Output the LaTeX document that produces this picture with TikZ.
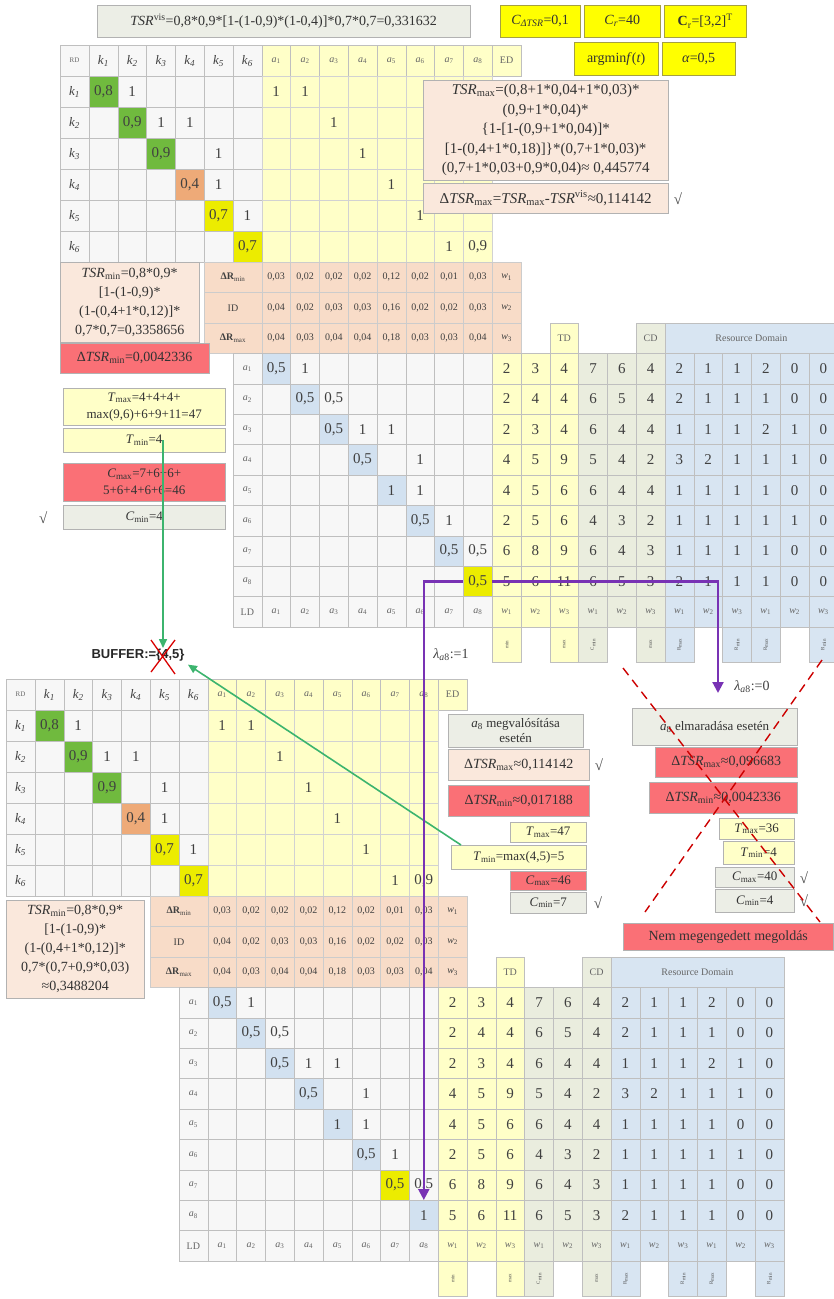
\documentclass[tikz,border=0pt]{standalone}
\usepackage{fontspec}
\setmainfont{Liberation Serif}
\newfontfamily\buffont{Liberation Sans}
\usetikzlibrary{arrows.meta, positioning, calc}

\definecolor{ylt}{RGB}{255,255,200}
\definecolor{glt}{RGB}{234,237,222}
\definecolor{blt}{RGB}{216,229,242}
\definecolor{pch}{RGB}{250,232,220}
\definecolor{pchd}{RGB}{248,220,200}
\definecolor{cred}{RGB}{250,112,118}
\definecolor{cgreen}{RGB}{112,186,62}
\definecolor{corange}{RGB}{238,170,120}
\definecolor{cyel}{RGB}{236,236,0}
\definecolor{bybox}{RGB}{255,255,0}
\definecolor{cblue}{RGB}{210,225,240}
\definecolor{cgrey}{RGB}{236,238,230}
\definecolor{cpurple}{RGB}{120,50,180}
\definecolor{cgarrow}{RGB}{60,180,110}

\newcommand{\fsz}[2]{\fontsize{#1}{#2}\selectfont}
\newcommand{\al}[1]{\textit{a}\textsubscript{#1}}
\newcommand{\wl}[1]{\textit{w}\textsubscript{#1}}
\newcommand{\tsr}{\textit{TSR}}
\newcommand{\colfill}[1]{\ifnum#1<18 \def\cf{ylt}\else\ifnum#1<21 \def\cf{glt}\else\def\cf{blt}\fi\fi}
\def\cw{28.8}
\def\rh{31}
\def\rr{30.4}
\def\ay{308.2}

\tikzset{
  cell/.style={draw=gray!50, fill=gray!6, anchor=north west, minimum width=28.8pt,
    minimum height=31pt, inner sep=0pt, text=black!75, font=\fsz{15}{17}},
  acell/.style={cell, minimum height=30.4pt},
  num/.style={text=black!75, font=\fsz{15}{17}},
  lab/.style={font=\fsz{10}{11}, text=black!60},
  drow/.style={acell, fill=pchd, draw=gray!40, font=\fsz{10}{11}},
  box/.style={draw=gray!60, anchor=north west, inner sep=0pt, align=center,
    text=black!80, font=\fsz{14}{18}},
  ybox/.style={box, fill=bybox, draw=yellow!60!black},
  tick/.style={font=\fsz{15}{17}, text=black!70},
  garrow/.style={draw=cgarrow, line width=1.6pt, -{Triangle[length=9pt,width=8pt]}},
  parrow/.style={draw=cpurple, line width=2.2pt, -{Triangle[length=11pt,width=11pt]}},
  cross/.style={draw=red!80!black, line width=1.4pt, dash pattern=on 9pt off 6pt},
}

% one requirement / activity block
\newcommand{\drawblock}[4]{%
  % header row
  \node[cell,lab,font=\fsz{7}{8}] (#1-rd) at (0,0) {RD};
  \foreach \co in {1,...,6}
    \node[cell,font=\fsz{13}{15}\itshape] (#1-hk\co) at ({\co*\cw},0) {k\textsubscript{\co}};
  \foreach \co in {1,...,8}
    \node[cell,lab,fill=ylt] (#1-ha\co) at ({(\co+6)*\cw},0) {\al{\co}};
  \node[cell,lab,fill=ylt] (#1-ed) at ({15*\cw},0) {ED};
  % k rows
  \foreach \ro in {1,...,6} {
    \node[cell,font=\fsz{13}{15}\itshape] (#1-vk\ro) at (0,{\ro*\rh}) {k\textsubscript{\ro}};
    \foreach \co in {1,...,6}
      \node[cell] (#1-k\ro-\co) at ({\co*\cw},{\ro*\rh}) {};
    \foreach \co in {7,...,14}
      \node[cell,fill=ylt,draw=gray!35] (#1-k\ro-\co) at ({\co*\cw},{\ro*\rh}) {};
  }
  \foreach \ro/\co/\va/\fc in {1/1/{0,8}/cgreen,2/2/{0,9}/cgreen,3/3/{0,9}/cgreen,
      4/4/{0,4}/corange,5/5/{0,7}/cyel,6/6/{0,7}/cyel}
    \node[cell,fill=\fc] (#1-k\ro-\co) at ({\co*\cw},{\ro*\rh}) {\va};
  \foreach \ro/\co/\va in {1/2/1,2/3/1,2/4/1,3/5/1,4/5/1,5/6/1,1/7/1,1/8/1,2/9/1,
      3/10/1,4/11/1,5/12/1,6/13/1,6/14/{0,9}}
    \node[num] at (#1-k\ro-\co) {\va};
  % delta R rows
  \node[drow,minimum width=57.6pt] (#1-dr1) at ({5*\cw},217) {\textbf{ΔR}\textsubscript{min}};
  \foreach \va [count=\co from 7] in {{0,03},{0,02},{0,02},{0,02},{0,12},{0,02},{0,01},{0,03}}
    \node[drow] at ({\co*\cw},217) {\va};
  \node[drow] (#1-w1) at ({15*\cw},217) {\wl{1}};
  \node[drow,minimum width=57.6pt] (#1-dr2) at ({5*\cw},247.4) {ID};
  \foreach \va [count=\co from 7] in {{0,04},{0,02},{0,03},{0,03},{0,16},{0,02},{0,02},{0,03}}
    \node[drow] at ({\co*\cw},247.4) {\va};
  \node[drow] (#1-w2) at ({15*\cw},247.4) {\wl{2}};
  \node[drow,minimum width=57.6pt] (#1-dr3) at ({5*\cw},277.8) {\textbf{ΔR}\textsubscript{max}};
  \foreach \va [count=\co from 7] in {{0,04},{0,03},{0,04},{0,04},{0,18},{0,03},{0,03},{0,04}}
    \node[drow] at ({\co*\cw},277.8) {\va};
  \node[drow] (#1-w3) at ({15*\cw},277.8) {\wl{3}};
  % domain headers
  \node[acell,lab,fill=ylt] (#1-td) at ({17*\cw},{\ay-\rr}) {TD};
  \node[acell,lab,fill=glt] (#1-cd) at ({20*\cw},{\ay-\rr}) {CD};
  \node[acell,lab,fill=blt,minimum width=172.8pt] (#1-rsd) at ({21*\cw},{\ay-\rr}) {Resource Domain};
  % activity matrix
  \foreach \ro in {1,...,8} {
    \node[acell,lab] (#1-va\ro) at ({6*\cw},{\ay+(\ro-1)*\rr}) {\al{\ro}};
    \foreach \co in {7,...,14}
      \node[acell] (#1-a\ro-\co) at ({\co*\cw},{\ay+(\ro-1)*\rr}) {};
  }
  \foreach \ro/\co/\va in {1/7/{0,5},2/8/{0,5},3/9/{0,5},4/10/{0,5},5/11/1,6/12/{0,5}}
    \node[acell,fill=cblue] (#1-a\ro-\co) at ({\co*\cw},{\ay+(\ro-1)*\rr}) {\va};
  \node[acell,fill=#2] (#1-a7-13) at ({13*\cw},{\ay+6*\rr}) {0,5};
  \node[acell,fill=#3] (#1-a8-14) at ({14*\cw},{\ay+7*\rr}) {#4};
  \foreach \ro/\co/\va in {1/8/1,2/9/{0,5},3/10/1,3/11/1,4/12/1,5/12/1,6/13/1,7/14/{0,5}}
    \node[num] at (#1-a\ro-\co) {\va};
  % time, cost and resource values
  \foreach \vals [count=\ro] in {{2,3,4,7,6,4,2,1,1,2,0,0},{2,4,4,6,5,4,2,1,1,1,0,0},
      {2,3,4,6,4,4,1,1,1,2,1,0},{4,5,9,5,4,2,3,2,1,1,1,0},{4,5,6,6,4,4,1,1,1,1,0,0},
      {2,5,6,4,3,2,1,1,1,1,1,0},{6,8,9,6,4,3,1,1,1,1,0,0},{5,6,11,6,5,3,2,1,1,1,0,0}}
    \foreach \va [count=\co from 15] in \vals {
      \colfill{\co}
      \node[acell,fill=\cf] (#1-t\ro-\co) at ({\co*\cw},{\ay+(\ro-1)*\rr}) {\va};
    }
  % LD row
  \node[acell,lab] (#1-ld) at ({6*\cw},{\ay+8*\rr}) {LD};
  \foreach \co in {1,...,8}
    \node[acell,lab] (#1-la\co) at ({(\co+6)*\cw},{\ay+8*\rr}) {\al{\co}};
  \foreach \co [evaluate=\co as \wi using {int(mod(\co,3)+1)}] in {15,...,26} {
    \colfill{\co}
    \node[acell,lab,fill=\cf] (#1-lw\co) at ({\co*\cw},{\ay+8*\rr}) {\wl{\wi}};
  }
  \foreach \co/\tx in {15/min,17/max,18/{C\textsubscript{min}},20/max,21/{R\textsubscript{max}},
      23/{R\textsubscript{min}},24/{R\textsubscript{max}},26/{R\textsubscript{min}}} {
    \colfill{\co}
    \node[acell,fill=\cf,minimum height=35pt] (#1-b\co) at ({\co*\cw},{\ay+9*\rr}) {};
    \node[rotate=90,font=\fsz{5}{6},text=black!70] at (#1-b\co) {\tx};
  }
}

\begin{document}
\begin{tikzpicture}[x=1pt, y=-1pt]
  \useasboundingbox (0,0) rectangle (833,1299);

  \begin{scope}[shift={(60,45)}]
    \drawblock{u}{cblue}{cyel}{0,5}
  \end{scope}
  \begin{scope}[shift={(6,679)}]
    \drawblock{l}{cyel}{cblue}{1}
  \end{scope}

  % top row
  \node[box,fill=cgrey,minimum width=373pt,minimum height=32pt] (tsrv) at (97,5)
    {\tsr\textsuperscript{vis}=0,8*0,9*[1-(1-0,9)*(1-0,4)]*0,7*0,7=0,331632};
  \node[ybox,minimum width=80pt,minimum height=32pt] (cdtsr) at (500,5)
    {\textit{C}\textsubscript{\textit{ΔTSR}}=0,1};
  \node[ybox,minimum width=76pt,minimum height=32pt] (cr) at (584,5)
    {\textit{C}\textsubscript{\textit{r}}=40};
  \node[ybox,minimum width=82pt,minimum height=32pt] (crv) at (664,5)
    {\textbf{C}\textsubscript{r}=[3,2]\textsuperscript{T}};
  \node[ybox,minimum width=84pt,minimum height=33pt] (argm) at (574,42)
    {argmin\textit{f}(\textit{t})};
  \node[ybox,minimum width=73pt,minimum height=33pt] (alph) at (662,42)
    {\textit{α}=0,5};

  % upper block boxes
  \node[box,fill=pch,minimum width=245pt,minimum height=100pt,font=\fsz{15}{19.5}] (tsrmax) at (423,80)
    {\tsr\textsubscript{max}=(0,8+1*0,04+1*0,03)*\\(0,9+1*0,04)*\\\{1-[1-(0,9+1*0,04)]*\\{}[1-(0,4+1*0,18)]\}*(0,7+1*0,03)*\\(0,7+1*0,03+0,9*0,04)≈ 0,445774};
  \node[box,fill=pch,minimum width=245pt,minimum height=30pt,font=\fsz{15}{17}] (dtsrmax) at (423,183)
    {Δ\tsr\textsubscript{max}=\tsr\textsubscript{max}-\tsr\textsuperscript{vis}≈0,114142};
  \node[tick,right=2pt of dtsrmax] {√};
  \node[box,fill=pch,minimum width=139pt,minimum height=80pt,font=\fsz{14}{19}] (tsrmin) at (60,262)
    {\tsr\textsubscript{min}=0,8*0,9*\\{}[1-(1-0,9)*\\(1-(0,4+1*0,12)]*\\0,7*0,7=0,3358656};
  \node[box,fill=cred,minimum width=149pt,minimum height=30pt] (dtsrmin) at (60,343)
    {Δ\tsr\textsubscript{min}=0,0042336};
  \node[box,fill=ylt,minimum width=162pt,minimum height=37pt,font=\fsz{13}{17}] (tmax) at (63,388)
    {\textit{T}\textsubscript{max}=4+4+4+\\max(9,6)+6+9+11=47};
  \node[box,fill=ylt,minimum width=162pt,minimum height=24pt,font=\fsz{13}{15}] (tmin) at (63,428)
    {\textit{T}\textsubscript{min}=4};
  \node[box,fill=cred,minimum width=162pt,minimum height=38pt,font=\fsz{13}{17}] (cmax) at (63,463)
    {\textit{C}\textsubscript{max}=7+6+6+\\5+6+4+6+6=46};
  \node[box,fill=cgrey,minimum width=162pt,minimum height=24pt,font=\fsz{13}{15}] (cmin) at (63,505)
    {\textit{C}\textsubscript{min}=4};
  \node[tick,left=12pt of cmin] {√};

  % buffer
  \node[font=\buffont\bfseries\fsz{13}{15},text=black!85] (buf) at (138,655) {BUFFER:=\{4,5\}};
  \coordinate (bx) at (163,657);
  \coordinate (bxt) at (163,648);
  \draw[red!85!black,line width=1.3pt] ($(bx)+(-12,-17)$) -- ($(bx)+(12,17)$)
    ($(bx)+(12,-17)$) -- ($(bx)+(-12,15)$);

  % lambda labels
  \node[font=\fsz{14}{16},text=black!75] (lam1) at (451,655) {\textit{λ}\textsubscript{\textit{a}8}:=1};
  \node[font=\fsz{14}{16},text=black!75] (lam0) at (752,687) {\textit{λ}\textsubscript{\textit{a}8}:=0};
  \coordinate (lamz) at (718,693);

  % lower block boxes
  \node[box,fill=pch,minimum width=138pt,minimum height=98pt,font=\fsz{14}{19}] (tsrmin2) at (6,900)
    {\tsr\textsubscript{min}=0,8*0,9*\\{}[1-(1-0,9)*\\(1-(0,4+1*0,12)]*\\0,7*(0,7+0,9*0,03)\\≈0,3488204};
  \node[box,fill=cgrey,minimum width=135pt,minimum height=33pt,font=\fsz{13}{15}] (megv) at (448,714)
    {\al{8} megvalósítása\\esetén};
  \node[box,fill=pch,minimum width=141pt,minimum height=31pt] (dmx1) at (448,749)
    {Δ\tsr\textsubscript{max}≈0,114142};
  \node[tick,right=2pt of dmx1] {√};
  \node[box,fill=cred,minimum width=141pt,minimum height=31pt] (dmn1) at (448,785)
    {Δ\tsr\textsubscript{min}≈0,017188};
  \node[box,fill=ylt,minimum width=76pt,minimum height=20pt,font=\fsz{13}{15}] (tmx1) at (510,822)
    {\textit{T}\textsubscript{max}=47};
  \node[box,fill=ylt,minimum width=135pt,minimum height=24pt,font=\fsz{13}{15}] (tmn1) at (451,845)
    {\textit{T}\textsubscript{min}=max(4,5)=5};
  \node[box,fill=cred,minimum width=76pt,minimum height=19pt,font=\fsz{13}{15}] (cmx1) at (510,871)
    {\textit{C}\textsubscript{max}=46};
  \node[box,fill=cgrey,minimum width=76pt,minimum height=21pt,font=\fsz{13}{15}] (cmn1) at (510,892)
    {\textit{C}\textsubscript{min}=7};
  \node[tick,right=4pt of cmn1] {√};

  \node[box,fill=cgrey,minimum width=165pt,minimum height=37pt,font=\fsz{13}{15}] (elm) at (632,708)
    {\al{8} elmaradása esetén};
  \node[box,fill=cred,minimum width=142pt,minimum height=30pt] (dmx2) at (655,747)
    {Δ\tsr\textsubscript{max}≈0,096683};
  \node[box,fill=cred,minimum width=148pt,minimum height=31pt] (dmn2) at (649,782)
    {Δ\tsr\textsubscript{min}≈0,0042336};
  \node[box,fill=ylt,minimum width=75pt,minimum height=21pt,font=\fsz{13}{15}] (tmx2) at (719,818)
    {\textit{T}\textsubscript{max}=36};
  \node[box,fill=ylt,minimum width=71pt,minimum height=23pt,font=\fsz{13}{15}] (tmn2) at (723,841)
    {\textit{T}\textsubscript{min}=4};
  \node[box,fill=cgrey,minimum width=79pt,minimum height=20pt,font=\fsz{13}{15}] (cmx2) at (715,867)
    {\textit{C}\textsubscript{max}=40};
  \node[tick,right=2pt of cmx2] {√};
  \node[box,fill=cgrey,minimum width=79pt,minimum height=23pt,font=\fsz{13}{15}] (cmn2) at (715,889)
    {\textit{C}\textsubscript{min}=4};
  \node[tick,right=2pt of cmn2] {√};
  \node[box,fill=cred,minimum width=210pt,minimum height=27pt] (nem) at (623,923)
    {Nem megengedett megoldás};

  % not allowed: crossed out
  \coordinate (xa) at (623,668);
  \coordinate (xb) at (820,922);
  \coordinate (xc) at (822,660);
  \coordinate (xd) at (645,912);
  \draw[cross] (xa) -- (xb);
  \draw[cross] (xc) -- (xd);

  % arrows
  \draw[garrow] (tmin.center -| bxt) -- (bxt);
  \draw[garrow] ($(tmn1.north west)+(10,0)$) -- (buf.south east);
  \draw[parrow] (u-a8-14.west) -- (u-a8-14.west -| l-a8-14.north) -- (l-a8-14.north);
  \draw[parrow] (u-a8-14.east) -| (lamz);
\end{tikzpicture}
\end{document}
